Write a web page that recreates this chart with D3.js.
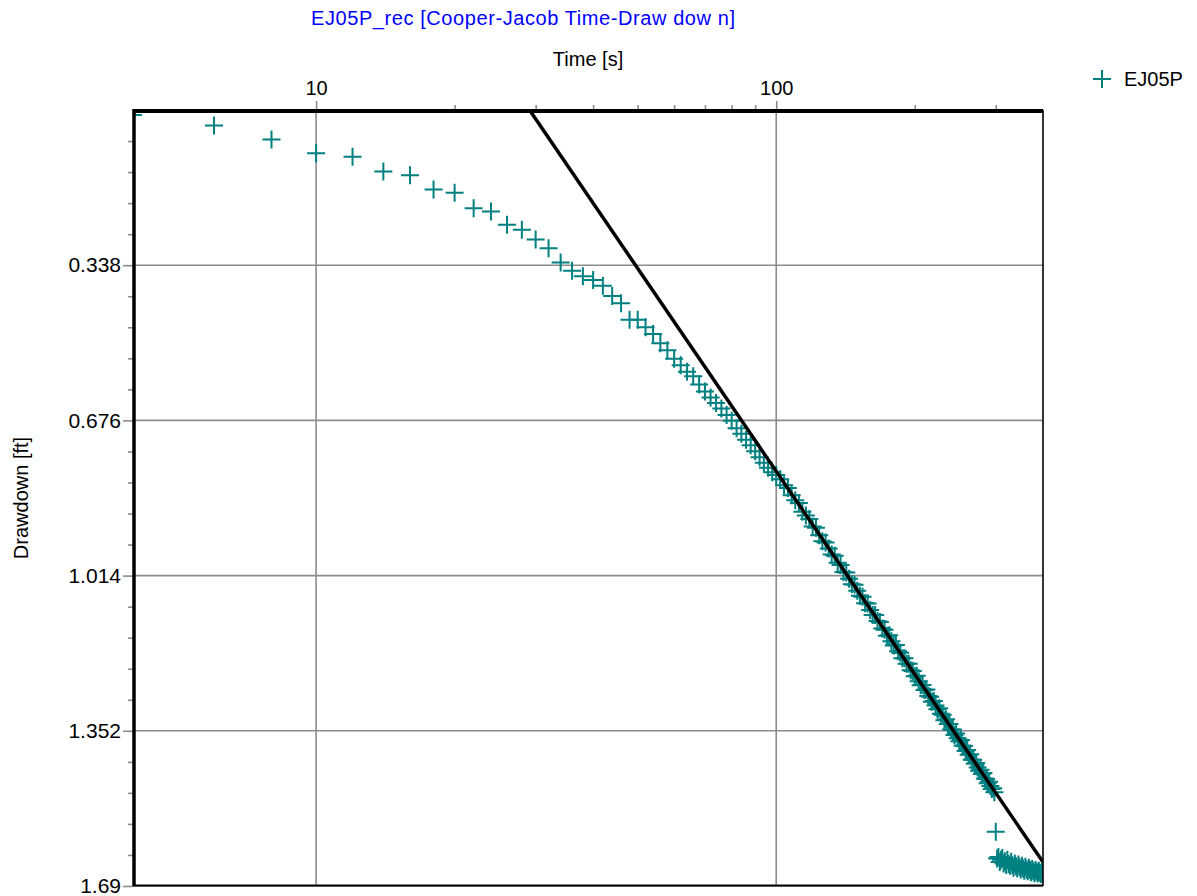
<!DOCTYPE html>
<html><head><meta charset="utf-8">
<script src="https://cdn.jsdelivr.net/npm/d3@7"></script>
<style>body{margin:0;background:#fff} text{font-family:Arial,"Liberation Sans",sans-serif}</style>
</head><body><svg id="chart" width="1197" height="896"></svg>
<script>
const title = "EJ05P_rec [Cooper-Jacob Time-Draw dow n]";
const xLabel = "Time [s]";
const yLabel = "Drawdown [ft]";
const seriesName = "EJ05P";
const xDomain = [4, 380];
const yDomain = [0, 1.69];
const xMajorTicks = [10, 100];
const xMinorTicks = [20, 30, 40, 50, 60, 70, 80, 90, 200, 300];
const yMajorTicks = [0.338, 0.676, 1.014, 1.352, 1.69];
const yMinorTicks = [0.0676, 0.1352, 0.2028, 0.2704, 0.4056, 0.4732, 0.5408, 0.6084,
  0.7436, 0.8112, 0.8788, 0.9464, 1.0816, 1.1492, 1.2168, 1.2844,
  1.4196, 1.4872, 1.5548, 1.6224];

const times = [4,6,8,10,12,14,16,18,20,22,24,26,28,30,32,34,36,38,40,42,44,46,48,50,52,54,56,58,60,62,64,66,
  68,70,72,74,76,78,80,82,84,86,88,90,92,94,96,98,
  100,102,104,106,108,110,112,114,116,118,120,122,124,126,128,130,132,134,136,138,140,142,144,146,148,150,
  152,154,156,158,160,162,164,166,168,170,172,174,176,178,180,182,184,186,188,190,192,194,196,198,200,
  202,204,206,208,210,212,214,216,218,220,222,224,226,228,230,232,234,236,238,240,242,244,246,248,250,
  252,254,256,258,260,262,264,266,268,270,272,274,276,278,280,282,284,286,288,290,292,294,296,298,
  300,
  302,304,306,308,310,312,314,316,318,320,322,324,326,328,330,332,334,336,338,340,
  342,344,346,348,350,352,354,356,358,360,362,364,366,368,370,372,374,376,378,380];

const drawdown = [0.011,0.034,0.064,0.094,0.102,0.134,0.142,0.173,0.180,0.214,0.221,0.250,0.261,0.282,0.301,0.332,
  0.350,0.362,0.370,0.383,0.405,0.421,0.457,0.457,0.473,0.488,0.508,0.523,0.542,0.556,0.570,0.580,
  0.598,0.613,0.626,0.638,0.650,0.664,0.677,0.693,0.705,0.718,0.730,0.743,0.756,0.768,0.779,0.789,
  0.795,0.804,0.817,0.823,0.839,0.850,0.856,0.875,0.883,0.891,0.907,0.910,0.926,0.939,0.942,0.955,
  0.968,0.971,0.986,0.991,1.006,1.007,1.021,1.033,1.034,1.047,1.058,1.060,1.074,1.075,1.089,1.100,
  1.100,1.113,1.115,1.129,1.132,1.145,1.144,1.157,1.166,1.165,1.179,1.182,1.194,1.194,1.206,1.206,
  1.220,1.222,1.233,1.232,1.244,1.253,1.252,1.263,1.262,1.276,1.278,1.289,1.287,1.297,1.305,1.303,
  1.315,1.317,1.329,1.327,1.337,1.337,1.349,1.349,1.361,1.358,1.368,1.375,1.372,1.384,1.385,1.396,
  1.394,1.404,1.403,1.415,1.415,1.424,1.422,1.432,1.439,1.437,1.446,1.444,1.456,1.457,1.466,1.463,
  1.472,1.479,1.477,1.486,
  1.572,
  1.630,1.627,1.638,1.633,1.629,1.641,1.636,1.644,1.633,1.642,
  1.646,1.637,1.645,1.650,1.641,1.647,1.652,1.643,1.649,1.654,
  1.646,1.652,1.657,1.648,1.654,1.658,1.650,1.655,1.660,1.653,
  1.658,1.662,1.655,1.659,1.663,1.657,1.661,1.664,1.659,1.662];

const fitTime = [29.1, 380];
const fitDrawdown = [0, 1.638];

const svg = d3.select("#chart");
const L = 133, R = 1043, T = 110, B = 886;
const x = d3.scaleLog().domain(xDomain).range([L, R]);
const y = d3.scaleLinear().domain(yDomain).range([T, B]);
const grid = "#8c8c8c", teal = "#008080";

svg.append("defs").append("clipPath").attr("id", "clip")
  .append("rect").attr("x", L).attr("y", T).attr("width", R - L).attr("height", B - T);

// grid
svg.append("g").selectAll("line").data(yMajorTicks).join("line")
  .attr("x1", L).attr("x2", R).attr("y1", d => y(d)).attr("y2", d => y(d))
  .attr("stroke", grid).attr("stroke-width", 1.6);
svg.append("g").selectAll("line").data(xMajorTicks).join("line")
  .attr("y1", T).attr("y2", B).attr("x1", d => x(d)).attr("x2", d => x(d))
  .attr("stroke", grid).attr("stroke-width", 1.6);

// axes
const xAxis = svg.append("g").attr("transform", `translate(0,${T + 1})`)
  .call(d3.axisTop(x).tickValues(xMajorTicks).tickSize(10).tickPadding(6).tickFormat(d => String(d)));
const xMinor = svg.append("g").attr("transform", `translate(0,${T + 1})`)
  .call(d3.axisTop(x).tickValues(xMinorTicks).tickSize(6).tickFormat(""));
const yAxis = svg.append("g").attr("transform", `translate(${L},0)`)
  .call(d3.axisLeft(y).tickValues(yMajorTicks).tickSize(10).tickPadding(2).tickFormat(d => String(d)));
const yMinor = svg.append("g").attr("transform", `translate(${L},0)`)
  .call(d3.axisLeft(y).tickValues(yMinorTicks).tickSize(5).tickFormat(""));
[xAxis, xMinor, yAxis, yMinor].forEach(g => {
  g.select(".domain").remove();
  g.selectAll(".tick line").attr("stroke", grid).attr("stroke-width", 1.6);
  g.selectAll(".tick text").attr("fill", "#000").style("font-size", "20px")
    .style("font-family", "Arial, 'Liberation Sans', sans-serif");
});
yAxis.selectAll(".tick text").style("font-size", "21px");

// data markers
const plot = svg.append("g").attr("clip-path", "url(#clip)");
plot.selectAll("path.pt").data(times.map((t, i) => [t, drawdown[i]])).join("path")
  .attr("class", "pt")
  .attr("d", d => `M${x(d[0]) - 9},${y(d[1])}H${x(d[0]) + 9}M${x(d[0])},${y(d[1]) - 9}V${y(d[1]) + 9}`)
  .attr("stroke", teal).attr("stroke-width", 2).attr("fill", "none");

// fitted line
plot.append("path")
  .datum(fitTime.map((t, i) => [t, fitDrawdown[i]]))
  .attr("d", d3.line().x(d => x(d[0])).y(d => y(d[1])))
  .attr("stroke", "#000").attr("stroke-width", 3.5).attr("fill", "none");

// frame
svg.append("line").attr("x1", L).attr("x2", R).attr("y1", B - 0.5).attr("y2", B - 0.5).attr("stroke", "#000").attr("stroke-width", 2);
svg.append("line").attr("x1", R).attr("x2", R).attr("y1", T).attr("y2", B).attr("stroke", "#000").attr("stroke-width", 1.6);
svg.append("line").attr("x1", L).attr("x2", R).attr("y1", T + 1).attr("y2", T + 1).attr("stroke", "#000").attr("stroke-width", 4);
svg.append("line").attr("x1", L + 1).attr("x2", L + 1).attr("y1", T - 1).attr("y2", B).attr("stroke", "#000").attr("stroke-width", 3.5);

// texts
svg.append("text").attr("x", 311).attr("y", 25).attr("fill", "#0000ff").style("font-size", "20px")
  .attr("textLength", 424).attr("lengthAdjust", "spacing").text(title);
svg.append("text").attr("x", (L + R) / 2).attr("y", 66).attr("text-anchor", "middle").style("font-size", "20px").text(xLabel);
svg.append("text").attr("transform", `translate(28,${(T + B) / 2}) rotate(-90)`).attr("text-anchor", "middle")
  .style("font-size", "20px").text(yLabel);

// legend
const lg = svg.append("g").attr("transform", "translate(1102,79)");
lg.append("path").attr("d", "M-9,0H9M0,-9V9").attr("stroke", teal).attr("stroke-width", 2);
lg.append("text").attr("x", 22).attr("y", 7).style("font-size", "20px").text(seriesName);
</script></body></html>
